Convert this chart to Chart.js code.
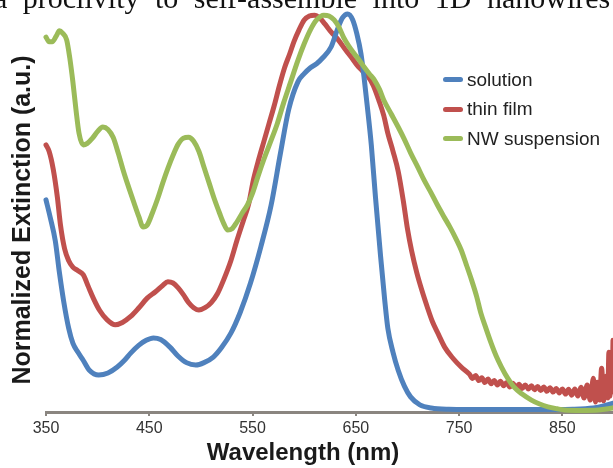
<!DOCTYPE html>
<html>
<head>
<meta charset="utf-8">
<script src="https://cdn.jsdelivr.net/npm/chart.js@4.4.1/dist/chart.umd.min.js"></script>
<style>
  html, body { margin: 0; padding: 0; background: #fff; }
  #wrap { position: relative; width: 613px; height: 468px; overflow: hidden; }
  #chart { position: absolute; left: 0; top: 0; }
  .caption { position: absolute; left: -6px; top: -17px; font: 30px "Liberation Serif", "Times New Roman", serif; line-height: 30px; word-spacing: 8px; white-space: nowrap; color: #111; }
  #legend { position: absolute; left: 443px; top: 65px; font: 19px "Liberation Sans", Arial, sans-serif; color: #222; }
  .item { display: flex; align-items: center; height: 29.5px; }
  .swatch { width: 20px; height: 5px; border-radius: 3px; margin-right: 4px; }
</style>
</head>
<body>
<div id="wrap">
  <canvas id="chart" width="613" height="468"></canvas>
  <div class="caption">a proclivity to self-assemble into 1D nanowires</div>
  <div id="legend"></div>
</div>
<script>
// x ticks + titles
const xTicks = [350, 450, 550, 650, 750, 850];
const xTitle = 'Wavelength (nm)';
const yTitle = 'Normalized Extinction (a.u.)';
const seriesNames = ['solution', 'thin film', 'NW suspension'];
const seriesColors = ['#4F81BD', '#C0504D', '#9BBB59'];

// solution
const solutionNm = [350,354,359,363,367,372,376,381,386,392,401,410,419,426,432,440,447,454,461,470,478,486,495,503,512,520,529,538,548,558,568,577,585,594,600,606,612,618,626,632,637,642,647,651,655,658,661,665,669,674,678,681,686,691,697,703,712,723,740,780,820,860,880,890,899];
const solutionVal = [0.533,0.49,0.43,0.35,0.28,0.21,0.173,0.15,0.13,0.105,0.093,0.098,0.113,0.13,0.148,0.168,0.18,0.186,0.182,0.163,0.14,0.124,0.118,0.124,0.138,0.162,0.198,0.25,0.324,0.415,0.52,0.65,0.76,0.83,0.85,0.865,0.875,0.89,0.917,0.96,0.99,1.0,0.985,0.95,0.9,0.84,0.77,0.67,0.54,0.39,0.28,0.21,0.15,0.105,0.065,0.038,0.018,0.01,0.007,0.006,0.006,0.007,0.01,0.015,0.022];

// thin film (noisy tail beyond 760 nm)
const filmNm = [350,353,357,361,364,368,372,376,381,386,391,396,402,409,417,424,432,440,448,456,463,468,473,478,483,488,493,498,504,510,516,522,529,535,541,546,551,556,561,566,571,576,581,586,590,595,600,605,610,615,620,626,633,640,646,651,656,662,667,672,677,681,686,691,696,700,704,709,714,719,724,730,736,744,752,
  760,763,766,769,772,775,778,781,784,787,790,793,796,799,802,805,808,811,814,817,820,823,826,829,832,835,838,841,844,847,850,853,856,859,862,865,868,871,874,877,880,882,884,886,888,890,892,894,895,896,897,898,899];
const filmVal = [0.671,0.655,0.61,0.54,0.47,0.41,0.38,0.364,0.355,0.345,0.315,0.285,0.255,0.232,0.219,0.225,0.24,0.262,0.286,0.302,0.318,0.327,0.324,0.312,0.295,0.275,0.262,0.256,0.262,0.275,0.297,0.332,0.38,0.432,0.48,0.52,0.585,0.635,0.68,0.725,0.77,0.82,0.865,0.9,0.93,0.96,0.985,0.995,0.997,0.99,0.975,0.955,0.935,0.91,0.89,0.872,0.858,0.842,0.82,0.785,0.745,0.70,0.655,0.605,0.53,0.46,0.405,0.35,0.305,0.265,0.228,0.195,0.163,0.135,0.113,
  0.095,0.084,0.092,0.079,0.086,0.074,0.083,0.071,0.079,0.068,0.077,0.066,0.074,0.063,0.072,0.061,0.070,0.059,0.068,0.058,0.066,0.056,0.064,0.054,0.063,0.052,0.061,0.050,0.059,0.048,0.058,0.045,0.057,0.042,0.058,0.040,0.062,0.035,0.068,0.030,0.085,0.025,0.075,0.03,0.11,0.028,0.09,0.035,0.15,0.04,0.13,0.05,0.18];

// NW suspension
const nwNm = [350,353,356,360,363,366,370,373,376,379,382,386,390,395,400,405,410,415,420,425,430,435,440,444,448,453,458,463,468,473,478,483,488,493,498,503,508,513,518,522,526,530,535,540,545,550,555,561,567,574,580,587,594,600,606,612,619,624,629,634,638,643,648,653,658,663,668,673,677,684,691,697,703,710,716,723,729,735,741,747,752,757,762,767,771,776,781,786,791,797,803,811,820,828,836,845,852,868,885,899];
const nwVal = [0.942,0.93,0.93,0.945,0.958,0.952,0.935,0.89,0.83,0.76,0.70,0.671,0.675,0.688,0.705,0.716,0.71,0.69,0.65,0.605,0.565,0.527,0.49,0.465,0.47,0.5,0.535,0.575,0.612,0.645,0.673,0.688,0.69,0.68,0.655,0.615,0.575,0.535,0.5,0.474,0.457,0.46,0.478,0.5,0.52,0.55,0.59,0.635,0.676,0.725,0.776,0.83,0.884,0.925,0.96,0.985,0.997,0.995,0.985,0.965,0.942,0.92,0.902,0.885,0.867,0.85,0.834,0.81,0.784,0.75,0.716,0.685,0.651,0.615,0.583,0.55,0.52,0.492,0.465,0.435,0.407,0.37,0.332,0.29,0.249,0.21,0.173,0.14,0.113,0.085,0.063,0.045,0.03,0.02,0.013,0.008,0.005,0.004,0.005,0.01];

const pair = (xs, ys) => xs.map((x, i) => ({ x: x, y: ys[i] }));

const axisTitles = {
  id: 'axisTitles',
  afterDraw(chart) {
    const ctx = chart.ctx;
    ctx.save();
    ctx.fillStyle = '#1a1a1a';
    ctx.textAlign = 'center';
    ctx.textBaseline = 'middle';
    ctx.font = 'bold 24px "Liberation Sans", Arial, sans-serif';
    ctx.fillText(xTitle, 303, 453);
    ctx.translate(23, 220);
    ctx.rotate(-Math.PI / 2);
    ctx.font = 'bold 25px "Liberation Sans", Arial, sans-serif';
    ctx.fillText(yTitle, 0, 0);
    ctx.restore();
  }
};

const datasets = [
  { label: seriesNames[0], data: pair(solutionNm, solutionVal), borderColor: seriesColors[0], order: 1 },
  { label: seriesNames[1], data: pair(filmNm, filmVal), borderColor: seriesColors[1], order: 2 },
  { label: seriesNames[2], data: pair(nwNm, nwVal), borderColor: seriesColors[2], order: 0 }
].map(ds => Object.assign(ds, { borderWidth: 5, pointRadius: 0, fill: false, clip: false,
  cubicInterpolationMode: 'monotone', borderCapStyle: 'round', borderJoinStyle: 'round' }));

new Chart(document.getElementById('chart').getContext('2d'), {
  type: 'line',
  data: { datasets: datasets },
  options: {
    responsive: false, animation: false, events: [],
    layout: { padding: { top: 8, right: 0, bottom: 0, left: 0 } },
    plugins: { legend: { display: false }, tooltip: { enabled: false } },
    scales: {
      x: {
        type: 'linear', min: 350, max: 899,
        afterBuildTicks: s => { s.ticks = xTicks.map(v => ({ value: v })); },
        afterFit: s => { s.height = 56; },
        ticks: { color: '#333', padding: 3, maxRotation: 0, font: { size: 16, family: '"Liberation Sans", Arial, sans-serif' } },
        grid: { drawOnChartArea: false, drawTicks: true, tickLength: 4, color: '#8a8580', lineWidth: 2 },
        border: { display: true, color: '#8a8580', width: 3 }
      },
      y: {
        min: 0, max: 1.015,
        afterFit: s => { s.width = 46; },
        ticks: { display: false },
        grid: { display: false },
        border: { display: false }
      }
    }
  },
  plugins: [axisTitles]
});

// legend
const legend = document.getElementById('legend');
seriesNames.forEach((name, i) => {
  const row = document.createElement('div');
  row.className = 'item';
  row.innerHTML = `<span class="swatch" style="background:${seriesColors[i]}"></span><span>${name}</span>`;
  legend.appendChild(row);
});
</script>
</body>
</html>
